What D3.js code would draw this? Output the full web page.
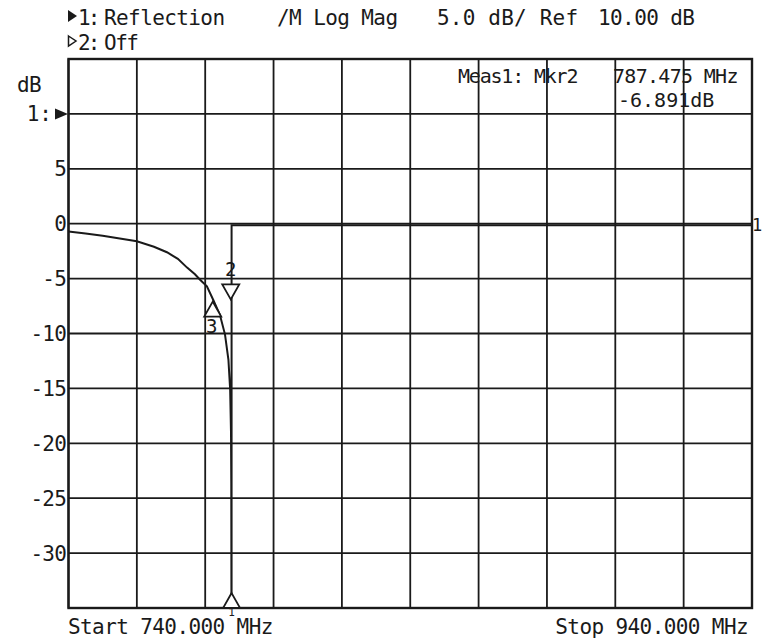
<!DOCTYPE html>
<html><head><meta charset="utf-8">
<script src="https://cdn.jsdelivr.net/npm/d3@7"></script>
<style>
html,body{margin:0;padding:0;background:#fff;}
text{font-family:"DejaVu Sans Mono","Liberation Mono",monospace;fill:#1a1a1a;}
</style></head>
<body><svg id="c" width="762" height="640"></svg>
<script>
// ---- data ----
const traceFreq = [740, 745, 750, 755, 760, 765, 768.8, 772, 774.7, 777, 778.5, 780.5, 782.3, 784.3, 785.8, 786.8, 787.3, 787.55, 787.63, 787.68, 787.72, 787.72, 800, 820, 840, 860, 880, 900, 920, 940];
const traceDb   = [-0.7, -0.9, -1.1, -1.35, -1.6, -2.1, -2.6, -3.2, -4.0, -4.6, -5.1, -5.7, -6.9, -8.3, -10.1, -12.4, -15.1, -19.0, -23.6, -40, -40, -0.15, -0.15, -0.15, -0.15, -0.15, -0.15, -0.15, -0.15, -0.15];
const yTicks = [15, 10, 5, 0, -5, -10, -15, -20, -25, -30, -35];
const yTickLabels = ["5", "0", "-5", "-10", "-15", "-20", "-25", "-30"];
const yTickLabelValues = [5, 0, -5, -10, -15, -20, -25, -30];
const xTicks = [740, 760, 780, 800, 820, 840, 860, 880, 900, 920, 940];
const markerNames = ["1", "2", "3"];
const markerFreqs = [787.72, 787.475, 782.2];
const markerValues = [-40, -6.891, -7.1];
const markerDirs = ["up", "down", "up"];
const refLevel = 10;

const svg = d3.select("#c");
const x = d3.scaleLinear().domain([740, 940]).range([68.5, 752]);
const y = d3.scaleLinear().domain([-35, 15]).range([608, 59]);
const ink = "#1a1a1a";
const FS = 21, LS = -0.6;

// grid
const g = svg.append("g");
g.selectAll(".vx").data(xTicks).join("line")
  .attr("x1", d => x(d)).attr("x2", d => x(d))
  .attr("y1", y(15)).attr("y2", y(-35))
  .attr("stroke", ink).attr("stroke-width", 1.8);
g.selectAll(".hy").data(yTicks).join("line")
  .attr("x1", x(740)).attr("x2", x(940))
  .attr("y1", d => y(d)).attr("y2", d => y(d))
  .attr("stroke", ink).attr("stroke-width", 1.8);
g.append("rect").attr("x", x(740)).attr("y", y(15))
  .attr("width", x(940) - x(740)).attr("height", y(-35) - y(15))
  .attr("fill", "none").attr("stroke", ink).attr("stroke-width", 2.4);

// y labels
svg.selectAll(".yl").data(yTickLabelValues).join("text")
  .attr("x", 66).attr("y", d => y(d)).attr("dy", "0.36em")
  .attr("text-anchor", "end").attr("font-size", FS)
  .attr("letter-spacing", -0.8)
  .text((d, i) => yTickLabels[i]);

// dB unit & ref label
svg.append("text").attr("x", 17).attr("y", 92).attr("font-size", FS).attr("letter-spacing", LS).text("dB");
svg.append("text").attr("x", 52).attr("y", y(refLevel)).attr("dy", "0.36em")
  .attr("text-anchor", "end").attr("font-size", FS).text("1:");
svg.append("path")
  .attr("d", `M55,${y(refLevel) - 5.5} L68,${y(refLevel)} L55,${y(refLevel) + 5.5} Z`)
  .attr("fill", ink);

// clip
svg.append("clipPath").attr("id", "clip").append("rect")
  .attr("x", x(740)).attr("y", y(15)).attr("width", x(940) - x(740)).attr("height", y(-35) - y(15));

// trace
const pts = traceFreq.map((f, i) => [f, traceDb[i]]);
svg.append("path").datum(pts)
  .attr("clip-path", "url(#clip)")
  .attr("d", d3.line().x(d => x(d[0])).y(d => y(Math.max(d[1], -36))).curve(d3.curveLinear))
  .attr("fill", "none").attr("stroke", ink).attr("stroke-width", 2);

// markers
const mk = svg.append("g");
markerNames.forEach((n, i) => {
  const mx = x(markerFreqs[i]);
  const off = markerValues[i] < -35;
  const my = off ? y(-35) - 15 : y(markerValues[i]);
  let dPath, ly;
  if (markerDirs[i] === "down") {
    dPath = `M${mx},${my} L${mx - 8.5},${my - 15} L${mx + 8.5},${my - 15} Z`;
    ly = my - 30;
  } else {
    dPath = `M${mx},${my} L${mx - 8.5},${my + 15} L${mx + 8.5},${my + 15} Z`;
    ly = off ? my + 19 : my + 25;
  }
  mk.append("path").attr("d", dPath).attr("fill", "#fff").attr("stroke", ink).attr("stroke-width", 1.8);
  mk.append("text").attr("x", mx + (i === 2 ? -1 : 0)).attr("y", ly).attr("dy", "0.36em")
    .attr("text-anchor", "middle").attr("font-size", off ? 11 : 19).text(n);
});

// trace end label
svg.append("text").attr("x", 752).attr("y", y(-0.15)).attr("dy", "0.36em").attr("font-size", 17).text("1");

// header texts
svg.append("path").attr("d", "M68,10 L77,16 L68,22 Z").attr("fill", ink);
svg.append("text").attr("x", 78).attr("y", 25).attr("font-size", FS).attr("letter-spacing", -3).text("1:");
svg.append("text").attr("x", 104).attr("y", 25).attr("font-size", FS).attr("letter-spacing", LS).text("Reflection");
svg.append("text").attr("x", 277).attr("y", 25).attr("font-size", FS).attr("letter-spacing", LS).text("/M Log Mag");
svg.append("text").attr("x", 437).attr("y", 25).attr("font-size", FS).attr("letter-spacing", 0.2).text("5.0 dB/ Ref");
svg.append("text").attr("x", 598).attr("y", 25).attr("font-size", FS).attr("letter-spacing", LS).text("10.00 dB");
svg.append("path").attr("d", "M68.5,36 L76,41 L68.5,46 Z").attr("fill", "none").attr("stroke", ink).attr("stroke-width", 1.5);
svg.append("text").attr("x", 78).attr("y", 50).attr("font-size", FS).attr("letter-spacing", -3).text("2:");
svg.append("text").attr("x", 104).attr("y", 50).attr("font-size", FS).attr("letter-spacing", -1.5).text("Off");

// marker readout
svg.append("text").attr("x", 458).attr("y", 83).attr("font-size", 20).attr("letter-spacing", -1.2).text("Meas1: Mkr2");
svg.append("text").attr("x", 613).attr("y", 83).attr("font-size", 20).attr("letter-spacing", -0.7).text("787.475 MHz");
svg.append("text").attr("x", 618).attr("y", 107).attr("font-size", 20).text("-6.891dB");

// footer
svg.append("text").attr("x", 68).attr("y", 634).attr("font-size", FS).attr("letter-spacing", LS).text("Start 740.000 MHz");
svg.append("text").attr("x", 748).attr("y", 634).attr("text-anchor", "end").attr("font-size", FS).attr("letter-spacing", LS).text("Stop 940.000 MHz");
</script></body></html>
